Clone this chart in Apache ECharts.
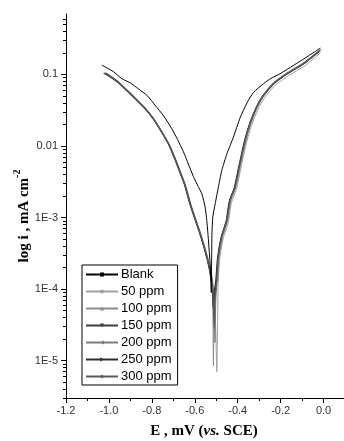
<!DOCTYPE html>
<html>
<head>
<meta charset="utf-8">
<script src="https://cdn.jsdelivr.net/npm/echarts@6/dist/echarts.min.js"></script>
<style>
  html, body { margin: 0; padding: 0; background: #fff; }
  #chart { width: 344px; height: 441px; }
</style>
</head>
<body>
<div id="chart"></div>
<script>
// Tafel polarization curves: potential E (V vs. SCE) against current density i (mA cm^-2)
const seriesNames = ['Blank', '50 ppm', '100 ppm', '150 ppm', '200 ppm', '250 ppm', '300 ppm'];

const eBlank = [-1.033, -0.98, -0.94, -0.90, -0.863, -0.82, -0.785, -0.745, -0.707, -0.68, -0.653, -0.63, -0.606, -0.585, -0.567, -0.552, -0.544, -0.538, -0.533, -0.529, -0.526, -0.523, -0.522, -0.521, -0.520, -0.516, -0.505, -0.490, -0.474, -0.450, -0.420, -0.388, -0.357, -0.326, -0.280, -0.248, -0.202, -0.140, -0.080, -0.015];
const iBlank = [0.135, 0.110, 0.0875, 0.0759, 0.0631, 0.0501, 0.0372, 0.0263, 0.0174, 0.0123, 0.00832, 0.00562, 0.00372, 0.00275, 0.00214, 0.00141, 9.1e-4, 5.6e-4, 3.5e-4, 2.4e-4, 1.6e-4, 8.9e-5, 1.78e-4, 3.47e-4, 5.9e-4, 1.02e-3, 1.55e-3, 2.66e-3, 4.57e-3, 7.8e-3, 0.0133, 0.0251, 0.0398, 0.0562, 0.0741, 0.0871, 0.1026, 0.134, 0.174, 0.234];

const e50 = [-1.004, -0.954, -0.903, -0.864, -0.825, -0.784, -0.748, -0.714, -0.686, -0.664, -0.639, -0.616, -0.594, -0.569, -0.549, -0.534, -0.524, -0.516, -0.508, -0.502, -0.497, -0.494, -0.491, -0.484, -0.468, -0.444, -0.429, -0.406, -0.384, -0.359, -0.336, -0.305, -0.274, -0.227, -0.165, -0.087, -0.012];
const i50 = [0.095, 0.074, 0.053, 0.041, 0.031, 0.0218, 0.0146, 0.0098, 0.0062, 0.00417, 0.00263, 0.00147, 9.3e-4, 5.6e-4, 3.5e-4, 2.4e-4, 1.8e-4, 1.3e-4, 7.4e-5, 2.5e-5, 7.0e-6, 3.0e-5, 1.2e-4, 2.6e-4, 5.0e-4, 8.5e-4, 1.62e-3, 2.48e-3, 5.1e-3, 0.0111, 0.0191, 0.0327, 0.0476, 0.0695, 0.0957, 0.132, 0.205];

const e100 = [-1.008, -0.958, -0.907, -0.868, -0.829, -0.788, -0.752, -0.718, -0.690, -0.668, -0.643, -0.620, -0.598, -0.573, -0.553, -0.538, -0.528, -0.520, -0.516, -0.513, -0.510, -0.503, -0.493, -0.486, -0.470, -0.446, -0.431, -0.408, -0.386, -0.361, -0.338, -0.307, -0.276, -0.229, -0.167, -0.089, -0.011];
const i100 = [0.100, 0.078, 0.056, 0.043, 0.0328, 0.0230, 0.0155, 0.0103, 0.0066, 0.0044, 0.0028, 0.00157, 9.9e-4, 6.0e-4, 3.8e-4, 2.6e-4, 1.9e-4, 1.4e-4, 6.0e-5, 8.5e-6, 5.0e-5, 1.1e-4, 1.35e-4, 2.8e-4, 5.4e-4, 9.1e-4, 1.74e-3, 2.66e-3, 5.5e-3, 0.0119, 0.0205, 0.035, 0.051, 0.0745, 0.1026, 0.142, 0.219];

const e150 = [-1.010, -0.960, -0.909, -0.870, -0.831, -0.790, -0.754, -0.720, -0.692, -0.670, -0.645, -0.622, -0.600, -0.575, -0.555, -0.540, -0.530, -0.522, -0.515, -0.511, -0.507, -0.499, -0.492, -0.476, -0.452, -0.437, -0.414, -0.392, -0.367, -0.344, -0.313, -0.282, -0.235, -0.173, -0.095, -0.017];
const i150 = [0.102, 0.0794, 0.0569, 0.0437, 0.0333, 0.0234, 0.0157, 0.0105, 0.00665, 0.00447, 0.00282, 0.00158, 0.0010, 6.0e-4, 3.8e-4, 2.6e-4, 1.9e-4, 1.4e-4, 9.0e-5, 4.0e-5, 8.0e-5, 1.3e-4, 2.7e-4, 5.2e-4, 8.8e-4, 1.7e-3, 2.6e-3, 5.3e-3, 0.0116, 0.020, 0.0342, 0.050, 0.073, 0.101, 0.140, 0.216];

const e200 = [-1.015, -0.963, -0.912, -0.873, -0.834, -0.793, -0.757, -0.723, -0.695, -0.672, -0.647, -0.624, -0.601, -0.576, -0.556, -0.541, -0.530, -0.521, -0.512, -0.506, -0.502, -0.495, -0.488, -0.472, -0.448, -0.433, -0.410, -0.388, -0.363, -0.340, -0.309, -0.278, -0.231, -0.169, -0.091, -0.013];
const i200 = [0.105, 0.083, 0.0595, 0.0457, 0.0349, 0.0245, 0.0164, 0.0110, 0.0070, 0.00468, 0.00295, 0.00165, 0.00105, 6.3e-4, 4.0e-4, 2.7e-4, 2.0e-4, 1.45e-4, 8.0e-5, 1.8e-5, 7.0e-5, 1.4e-4, 2.9e-4, 5.6e-4, 9.5e-4, 1.8e-3, 2.75e-3, 5.7e-3, 0.0124, 0.0213, 0.0365, 0.053, 0.0775, 0.106, 0.147, 0.226];

const e250 = [-1.020, -0.965, -0.912, -0.873, -0.834, -0.793, -0.757, -0.723, -0.695, -0.673, -0.648, -0.625, -0.603, -0.578, -0.558, -0.543, -0.533, -0.525, -0.518, -0.514, -0.510, -0.502, -0.494, -0.478, -0.454, -0.439, -0.416, -0.394, -0.369, -0.346, -0.315, -0.284, -0.237, -0.175, -0.097, -0.019];
const i250 = [0.106, 0.0815, 0.0583, 0.0447, 0.034, 0.024, 0.0161, 0.0107, 0.0068, 0.00458, 0.00289, 0.00162, 0.00102, 6.1e-4, 3.9e-4, 2.65e-4, 1.95e-4, 1.4e-4, 1.0e-4, 5.5e-5, 9.0e-5, 1.3e-4, 2.7e-4, 5.2e-4, 8.9e-4, 1.7e-3, 2.6e-3, 5.3e-3, 0.0115, 0.0198, 0.034, 0.0497, 0.0728, 0.1005, 0.139, 0.213];

const e300 = [-1.025, -0.962, -0.910, -0.871, -0.832, -0.791, -0.755, -0.721, -0.693, -0.671, -0.646, -0.623, -0.601, -0.576, -0.556, -0.541, -0.531, -0.523, -0.515, -0.509, -0.505, -0.498, -0.491, -0.475, -0.451, -0.436, -0.413, -0.391, -0.366, -0.343, -0.312, -0.281, -0.234, -0.172, -0.094, -0.016];
const i300 = [0.104, 0.0805, 0.0577, 0.0443, 0.0337, 0.0237, 0.0159, 0.0106, 0.00673, 0.00452, 0.00285, 0.0016, 0.00101, 6.1e-4, 3.85e-4, 2.6e-4, 1.9e-4, 1.4e-4, 8.5e-5, 2.8e-5, 7.5e-5, 1.3e-4, 2.75e-4, 5.3e-4, 9.0e-4, 1.72e-3, 2.63e-3, 5.4e-3, 0.0118, 0.0203, 0.0347, 0.0505, 0.074, 0.102, 0.141, 0.218];

// Axis ticks
const xTickValues = [-1.2, -1.0, -0.8, -0.6, -0.4, -0.2, 0.0];
const xTickLabels = ['-1.2', '-1.0', '-0.8', '-0.6', '-0.4', '-0.2', '0.0'];
const xMinorValues = [-1.1, -0.9, -0.7, -0.5, -0.3, -0.1, 0.1];
const yTickValues = [1e-5, 1e-4, 1e-3, 0.01, 0.1];
const yTickLabels = ['1E-5', '1E-4', '1E-3', '0.01', '0.1'];
const xMin = -1.2, xMax = 0.1;
const yMin = 3e-6, yMax = 0.7;

// log minor ticks at 2..9 × each decade inside the axis range
const yMinorValues = [];
for (let d = -6; d <= -1; d++) {
  for (let m = 2; m <= 9; m++) {
    const v = m * Math.pow(10, d);
    if (v >= yMin * 0.999 && v <= yMax * 1.001) yMinorValues.push(v);
  }
}

const curves = [
  { e: eBlank, i: iBlank, color: '#000000', symbol: 'rect', rotate: 0, width: 1 },
  { e: e50, i: i50, color: '#a0a0a0', symbol: 'circle', rotate: 0, width: 1 },
  { e: e100, i: i100, color: '#8c8c8c', symbol: 'triangle', rotate: 0, width: 1 },
  { e: e150, i: i150, color: '#3c3c3c', symbol: 'triangle', rotate: 180, width: 1.2 },
  { e: e200, i: i200, color: '#7c7c7c', symbol: 'triangle', rotate: 90, width: 1 },
  { e: e250, i: i250, color: '#2e2e2e', symbol: 'triangle', rotate: -90, width: 1.2 },
  { e: e300, i: i300, color: '#5a5a5a', symbol: 'diamond', rotate: 0, width: 1.2 }
];

const labelFont = { fontFamily: 'Liberation Sans', fontSize: 11, color: '#333' };
const axisLineStyle = { color: '#000', width: 1 };

function lookup(values, labels, v, useLog) {
  for (let k = 0; k < values.length; k++) {
    const a = useLog ? Math.log10(values[k]) : values[k];
    const b = useLog ? Math.log10(v) : v;
    if (Math.abs(a - b) < 1e-6) return labels[k];
  }
  return '';
}

const chart = echarts.init(document.getElementById('chart'), null, { renderer: 'canvas' });

chart.setOption({
  animation: false,
  backgroundColor: '#fff',
  grid: { left: 66, right: -1, top: 14, bottom: 43, containLabel: false, outerBoundsMode: 'none' },
  xAxis: [
    {
      type: 'value', min: xMin, max: xMax, interval: 0.2,
      axisLine: { show: true, onZero: false, lineStyle: axisLineStyle },
      axisTick: { show: true, inside: false, length: 5, customValues: xTickValues, lineStyle: axisLineStyle },
      axisLabel: { ...labelFont, margin: 7, customValues: xTickValues,
        formatter: v => lookup(xTickValues, xTickLabels, v, false) },
      splitLine: { show: false }
    },
    {
      type: 'value', min: xMin, max: xMax, position: 'bottom', offset: 0,
      axisLine: { show: false, onZero: false },
      axisTick: { show: true, inside: false, length: 3, customValues: xMinorValues, lineStyle: axisLineStyle },
      axisLabel: { show: false },
      splitLine: { show: false }
    }
  ],
  yAxis: [
    {
      type: 'log', logBase: 10, min: yMin, max: yMax,
      axisLine: { show: true, onZero: false, lineStyle: axisLineStyle },
      axisTick: { show: true, inside: false, length: 5, customValues: yTickValues, lineStyle: axisLineStyle },
      axisLabel: { ...labelFont, margin: 8, customValues: yTickValues,
        formatter: v => lookup(yTickValues, yTickLabels, v, true) },
      splitLine: { show: false },
      minorTick: { show: false }
    },
    {
      type: 'log', logBase: 10, min: yMin, max: yMax, position: 'left', offset: 0,
      axisLine: { show: false, onZero: false },
      axisTick: { show: true, inside: false, length: 3, customValues: yMinorValues, lineStyle: axisLineStyle },
      axisLabel: { show: false },
      splitLine: { show: false }
    }
  ],
  legend: {
    orient: 'vertical',
    left: 82, top: 265,
    itemWidth: 32, itemHeight: 5, itemGap: 4,
    padding: [3, 6, 2, 3],
    borderColor: '#000', borderWidth: 1, borderRadius: 0,
    backgroundColor: '#fff',
    textStyle: { fontFamily: 'Liberation Sans', fontSize: 13, color: '#000', padding: [0, 0, 0, -2] },
    data: seriesNames
  },
  graphic: [
    {
      type: 'text', x: 22, y: 216, rotation: Math.PI / 2,
      style: {
        text: '{a|log i , mA cm}{b|-2}',
        align: 'center', verticalAlign: 'middle',
        rich: {
          a: { fontFamily: 'Liberation Serif', fontWeight: 'bold', fontSize: 15, lineHeight: 20, verticalAlign: 'bottom', fill: '#000' },
          b: { fontFamily: 'Liberation Serif', fontWeight: 'bold', fontSize: 10, lineHeight: 20, verticalAlign: 'top', fill: '#000' }
        }
      }
    },
    {
      type: 'text', x: 204, y: 431,
      style: {
        text: '{a|E , mV (}{i|vs.}{a| SCE)}',
        align: 'center', verticalAlign: 'middle',
        rich: {
          a: { fontFamily: 'Liberation Serif', fontWeight: 'bold', fontSize: 15, fill: '#000' },
          i: { fontFamily: 'Liberation Serif', fontWeight: 'bold', fontStyle: 'italic', fontSize: 15, fill: '#000' }
        }
      }
    }
  ],
  series: curves.map((c, k) => ({
    name: seriesNames[k],
    type: 'line',
    xAxisIndex: 0, yAxisIndex: 0,
    data: c.e.map((e, j) => [e, c.i[j]]),
    symbol: c.symbol,
    symbolRotate: c.rotate,
    symbolSize: 4,
    showSymbol: false,
    smooth: 0.2,
    itemStyle: { color: c.color },
    lineStyle: { color: c.color, width: c.width },
    z: k === 0 ? 3 : 2
  }))
});
</script>
</body>
</html>
